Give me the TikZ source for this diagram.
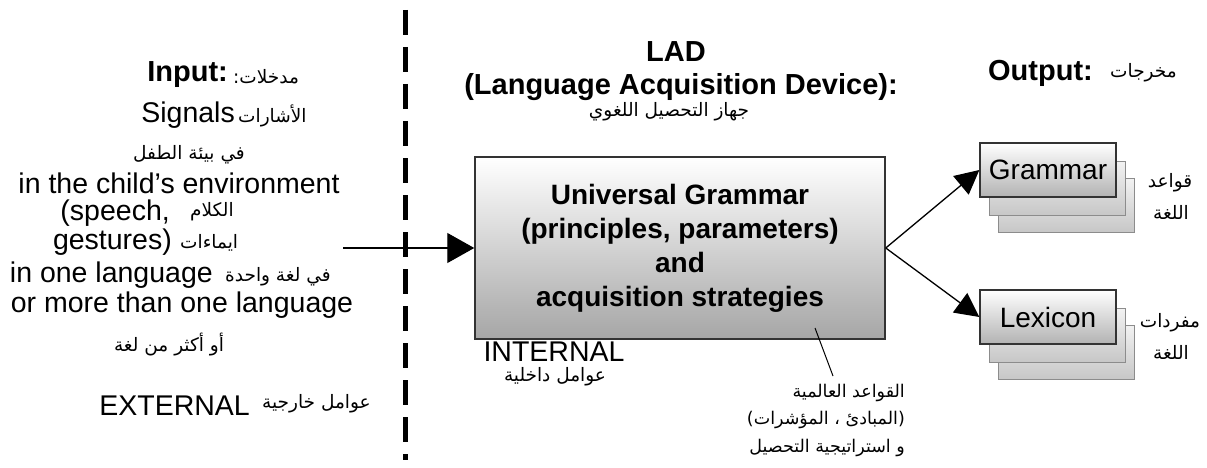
\documentclass[tikz,border=0pt]{standalone}
\usepackage{fontspec}
\setmainfont{Liberation Sans}
\newfontfamily\arfont[Script=Arabic]{DejaVu Sans}
\TeXXeTstate=1
\usetikzlibrary{arrows.meta}
\newcommand\AR[1]{{\arfont\fontsize{18.5}{22}\selectfont\beginR #1\endR}}
\newcommand\ARs[1]{{\arfont\fontsize{17.5}{21}\selectfont\beginR #1\endR}}
\definecolor{boxedge}{HTML}{333333}
\tikzset{
  lat/.style={inner sep=0pt, font=\fontsize{28.5}{34}\selectfont},
  latb/.style={inner sep=0pt, font=\fontsize{29}{34}\selectfont\bfseries},
  arl/.style={inner sep=0pt},
  mainbox/.style={draw=boxedge, line width=1.5pt, top color=white, bottom color=black!35,
    minimum width=410pt, minimum height=182pt, align=center, inner sep=0pt,
    font=\fontsize{28}{34}\selectfont\bfseries},
  outbox/.style={draw=boxedge, line width=1.3pt, top color=white, bottom color=black!30,
    minimum width=136pt, minimum height=54pt, inner sep=0pt, font=\fontsize{28}{34}\selectfont},
  layer/.style={draw=black!45, line width=0.8pt, top color=black!5, bottom color=black!22,
    minimum width=136pt, minimum height=54pt, inner sep=0pt},
  conn/.style={line width=1.3pt},
  bigtip/.style={-{Triangle[length=27pt,width=30pt]}},
  tip/.style={-{Triangle[length=24pt,width=24pt]}},
  divider/.style={line width=5pt, dash pattern=on 25pt off 12pt}
}
\begin{document}
\begin{tikzpicture}[x=1pt,y=-1pt]
\useasboundingbox (0,0) rectangle (1207,468);
% divider
\coordinate (dtop) at (405,10);
\coordinate (dbot) at (405,460);
\draw[divider] (dtop) -- (dbot);
% left texts
\node[latb, anchor=east] (inp) at (228,75) {Input:};
\node[arl, anchor=west] (arinp) at (233,77) {\AR{مدخلات:}};
\node[lat, anchor=east] (sig) at (235,115) {Signals};
\node[arl, anchor=west] (arsig) at (238,116) {\AR{الأشارات}};
\node[arl] (arenv) at (189,155) {\AR{في بيئة الطفل}};
\node[lat] (env) at (179,183) {in the child’s environment};
\node[lat, anchor=east] (sp) at (170,213) {(speech,};
\node[arl, anchor=west] (arsp) at (190,212) {\AR{الكلام}};
\node[lat, anchor=east] (ge) at (172,242) {gestures)};
\node[arl, anchor=west] (arge) at (180,243) {\AR{ايماءات}};
\node[lat, anchor=east] (one) at (213,275) {in one language};
\node[arl, anchor=west] (arone) at (225,277) {\AR{في لغة واحدة}};
\node[lat] (more) at (182,305) {or more than one language};
\node[arl] (armore) at (169,345) {\AR{أو أكثر من لغة}};
\node[lat, anchor=east] (ext) at (250,406) {EXTERNAL};
\node[arl, anchor=west] (arext) at (262,404) {\AR{عوامل خارجية}};
% LAD title
\node[latb] (lad) at (676,52) {LAD};
\node[latb] (ladfull) at (681,87) {(Language Acquisition Device):};
\node[arl] (arlad) at (669,112) {\AR{جهاز التحصيل اللغوي}};
% main box
\node[mainbox] (ug) at (680,248) {Universal Grammar\\(principles, parameters)\\and\\acquisition strategies};
\coordinate (inStart) at (343,248);
\draw[conn, bigtip] (inStart) -- (ug.west);
\node[lat] (int) at (554,352) {INTERNAL};
\node[arl] (arint) at (555,377) {\AR{عوامل داخلية}};
\node[arl, anchor=east] (arug1) at (905,393) {\ARs{القواعد العالمية}};
\node[arl, anchor=east] (arug2) at (905,420) {\ARs{(المبادئ ، المؤشرات)}};
\node[arl, anchor=east] (arug3) at (905,448) {\ARs{و استراتيجية التحصيل}};
\coordinate (ptr) at (815,328);
\draw[line width=1pt] (ptr) -- (833,376);
% output
\node[latb, anchor=east] (out) at (1093,73) {Output:};
\node[arl, anchor=west] (arout) at (1110,73) {\AR{مخرجات}};
\node[layer] (g3) at (1066,205) {};
\node[layer] (g2) at (1057,188) {};
\node[outbox] (gram) at (1048,170) {Grammar};
\node[layer] (l3) at (1066,352) {};
\node[layer] (l2) at (1057,335) {};
\node[outbox] (lex) at (1048,317) {Lexicon};
\draw[conn, tip] (ug.east) -- (gram.west);
\draw[conn, tip] (ug.east) -- (lex.west);
\node[arl] (argr1) at (1170,183) {\AR{قواعد}};
\node[arl] (argr2) at (1171,212) {\AR{اللغة}};
\node[arl] (arlx1) at (1170,323) {\AR{مفردات}};
\node[arl] (arlx2) at (1171,352) {\AR{اللغة}};
\end{tikzpicture}
\end{document}
